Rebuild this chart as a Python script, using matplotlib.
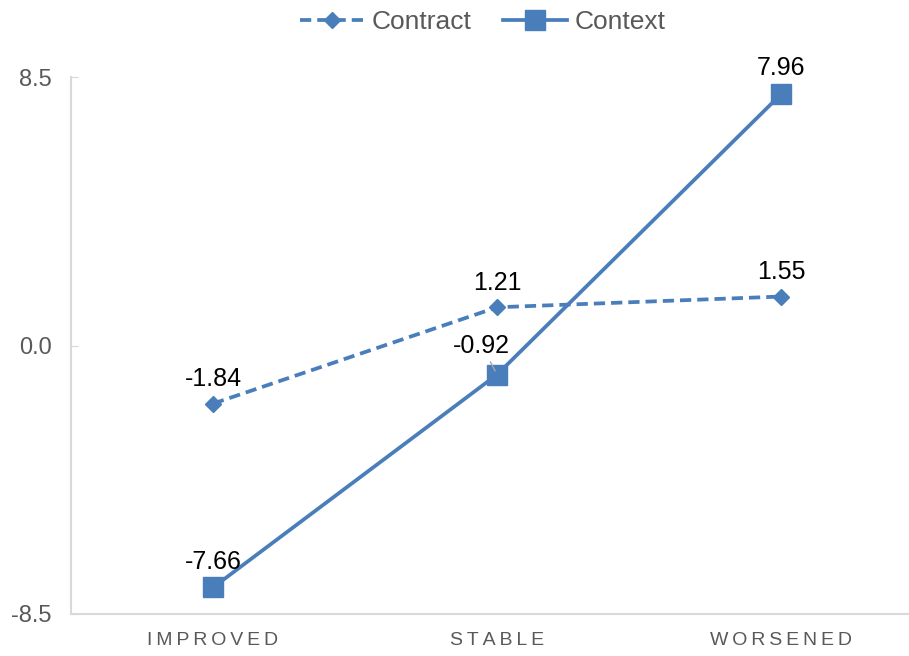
import matplotlib
matplotlib.use("Agg")
import matplotlib.pyplot as plt
from matplotlib.lines import Line2D

categories = ["IMPROVED", "STABLE", "WORSENED"]
contract = [-1.84, 1.21, 1.55]
context = [-7.66, -0.92, 7.96]
yticks = [-8.5, 0.0, 8.5]
ytick_labels = ["-8.5", "0.0", "8.5"]

blue = "#4A7EBB"
gray_axis = "#D9D9D9"
gray_text = "#595959"

plt.rcParams['font.family'] = ['Liberation Sans', 'DejaVu Sans']

fig = plt.figure(figsize=(9.09, 6.56), dpi=100)
W, H = 909, 656
left_px, right_px = 71, 909
top_px, bottom_px = 77, 614
ax = fig.add_axes([left_px / W, 1 - bottom_px / H, (right_px - left_px) / W, (bottom_px - top_px) / H])

x = list(range(len(categories)))
ax.plot(x, contract, linestyle=(0, (3, 1.6)), color=blue, linewidth=2.7,
        marker='D', markersize=8, markeredgecolor=blue, markerfacecolor=blue, zorder=3)
ax.plot(x, context, linestyle='-', color=blue, linewidth=2.7,
        marker='s', markersize=14, markeredgecolor=blue, markerfacecolor=blue, zorder=3)

ax.set_xlim(-0.5, 2.45)
ax.set_ylim(-8.5, 8.5)
ax.set_yticks(yticks)
ax.set_yticklabels(ytick_labels)
ax.set_xticks(x)
ax.set_xticklabels(["\u2009".join(c) for c in categories])

for s in ["top", "right"]:
    ax.spines[s].set_visible(False)
for s in ["left", "bottom"]:
    ax.spines[s].set_color(gray_axis)
    ax.spines[s].set_linewidth(1.5)

ax.tick_params(axis='y', direction='in', length=5, color=gray_axis, labelsize=17,
               labelcolor=gray_text, pad=14)
ax.tick_params(axis='x', length=0, labelsize=14, labelcolor=gray_text, pad=13)

label_fs = 18
for xi, v in zip(x, contract):
    ax.annotate(f"{v:.2f}", (xi, v), xytext=(0, 9), textcoords='offset points',
                ha='center', va='bottom', fontsize=label_fs, color='black')
for xi, v in zip(x, context):
    if xi == 1:
        ax.annotate(f"{v:.2f}", (xi, v), xytext=(-11, 12), textcoords='offset points',
                    ha='center', va='bottom', fontsize=label_fs, color='black',
                    arrowprops=dict(arrowstyle='-', color='#A6A6A6', lw=1,
                                    shrinkA=1, shrinkB=3))
    else:
        ax.annotate(f"{v:.2f}", (xi, v), xytext=(0, 10), textcoords='offset points',
                    ha='center', va='bottom', fontsize=label_fs, color='black')

handles = [
    Line2D([], [], linestyle=(0, (3, 1.6)), color=blue, linewidth=2.7, marker='D',
           markersize=8, markerfacecolor=blue, markeredgecolor=blue),
    Line2D([], [], linestyle='-', color=blue, linewidth=2.7, marker='s',
           markersize=14, markerfacecolor=blue, markeredgecolor=blue),
]
leg = fig.legend(handles, ["Contract", "Context"], loc='center', bbox_to_anchor=(483 / W, 1 - 22 / H),
                 ncol=2, frameon=False, fontsize=19, handlelength=2.4, columnspacing=1.2,
                 handletextpad=0.3)
for t in leg.get_texts():
    t.set_color(gray_text)

fig.savefig("out.png", dpi=100)
